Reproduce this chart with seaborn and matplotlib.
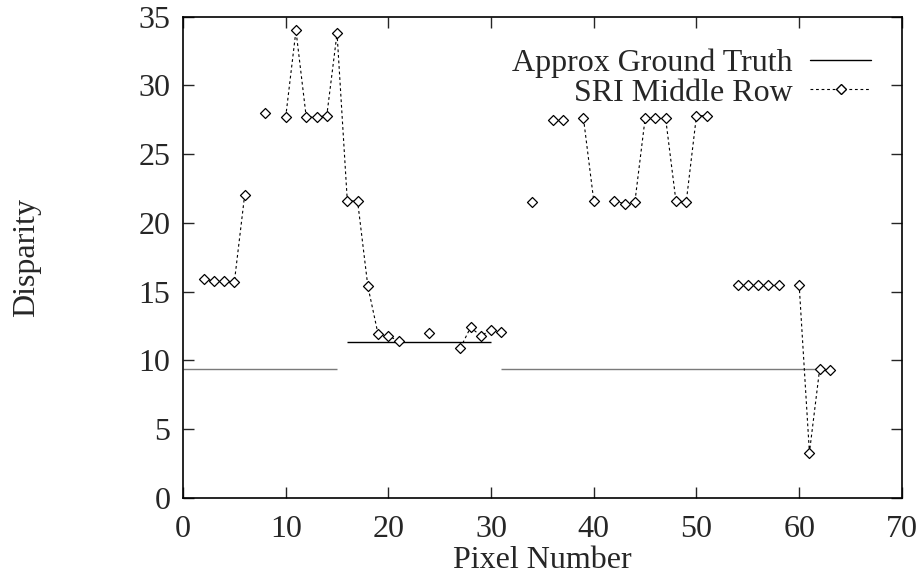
import matplotlib
matplotlib.use("Agg")
import matplotlib.pyplot as plt
import seaborn as sns
import numpy as np
import pandas as pd
from matplotlib.lines import Line2D

# Data
pixel = [2, 3, 4, 5, 6, 8, 10, 11, 12, 13, 14, 15, 16, 17, 18, 19, 20, 21, 24,
         27, 28, 29, 30, 31, 34, 36, 37, 39, 40, 42, 43, 44, 45, 46, 47, 48,
         49, 50, 51, 54, 55, 56, 57, 58, 60, 61, 62, 63]
disparity = [15.9, 15.8, 15.8, 15.7, 22.0, 28.0, 27.7, 34.0, 27.7, 27.7, 27.8,
             33.8, 21.6, 21.6, 15.4, 11.9, 11.8, 11.4, 12.0, 10.9, 12.4, 11.8,
             12.2, 12.1, 21.5, 27.5, 27.5, 27.6, 21.6, 21.6, 21.4, 21.5, 27.6,
             27.6, 27.6, 21.6, 21.5, 27.8, 27.8, 15.5, 15.5, 15.5, 15.5, 15.5,
             15.5, 3.3, 9.4, 9.3]

truth_start = [0, 16, 31]
truth_end = [15, 30, 62]
truth_value = [9.35, 11.35, 9.35]
truth_color = ["#7a7a7a", "black", "#7a7a7a"]

x_ticks = [0, 10, 20, 30, 40, 50, 60, 70]
y_ticks = [0, 5, 10, 15, 20, 25, 30, 35]

sns.set_style("ticks")
plt.rcParams["font.family"] = ["Liberation Serif", "DejaVu Serif"]
plt.rcParams["xtick.direction"] = "in"
plt.rcParams["ytick.direction"] = "in"

FS = 23

# Break the dotted line where pixels are missing
df = pd.DataFrame({"pixel": pixel, "disparity": disparity})
df["run"] = (df["pixel"].diff() != 1).cumsum()

fig = plt.figure(figsize=(9.21, 5.77), dpi=100)
ax = fig.add_axes([0.1987, 0.137, 0.7805, 0.834])

ax.hlines(truth_value, truth_start, truth_end, colors=truth_color, linewidth=1.0)

sns.lineplot(data=df, x="pixel", y="disparity", units="run", estimator=None,
             color="black", linestyle=(0, (2.5, 2.5)), linewidth=0.8,
             ax=ax, legend=False)
sns.scatterplot(data=df, x="pixel", y="disparity", marker="D", s=26,
                facecolor="white", edgecolor="black", linewidth=0.9,
                ax=ax, legend=False, zorder=3)

ax.set_xlim(0, 70)
ax.set_ylim(0, 35)
ax.set_xticks(x_ticks)
ax.set_yticks(y_ticks)
ax.tick_params(axis="both", labelsize=FS, length=8, width=1,
               top=True, right=True)
ax.tick_params(axis="x", pad=12)
ax.tick_params(axis="y", pad=9)
for s in ax.spines.values():
    s.set_linewidth(1.2)
    s.set_color("black")

ax.set_xlabel("Pixel Number", fontsize=FS, labelpad=2)
ax.set_ylabel("Disparity", fontsize=FS, labelpad=70)

handles = [
    Line2D([0], [0], color="black", linewidth=1.0),
    Line2D([0], [0], color="black", linestyle=(0, (2.5, 2.5)), linewidth=0.8,
           marker="D", markersize=5, markerfacecolor="white",
           markeredgecolor="black"),
]
leg = ax.legend(handles, ["Approx Ground Truth", "SRI Middle Row"],
                loc="upper right", fontsize=FS, frameon=False,
                markerfirst=False, handlelength=1.9, handletextpad=0.55,
                labelspacing=0.0, borderaxespad=0.0,
                bbox_to_anchor=(0.975, 0.96))
for t in leg.get_texts():
    t.set_ha("right")

fig.savefig("out.png", dpi=100)
